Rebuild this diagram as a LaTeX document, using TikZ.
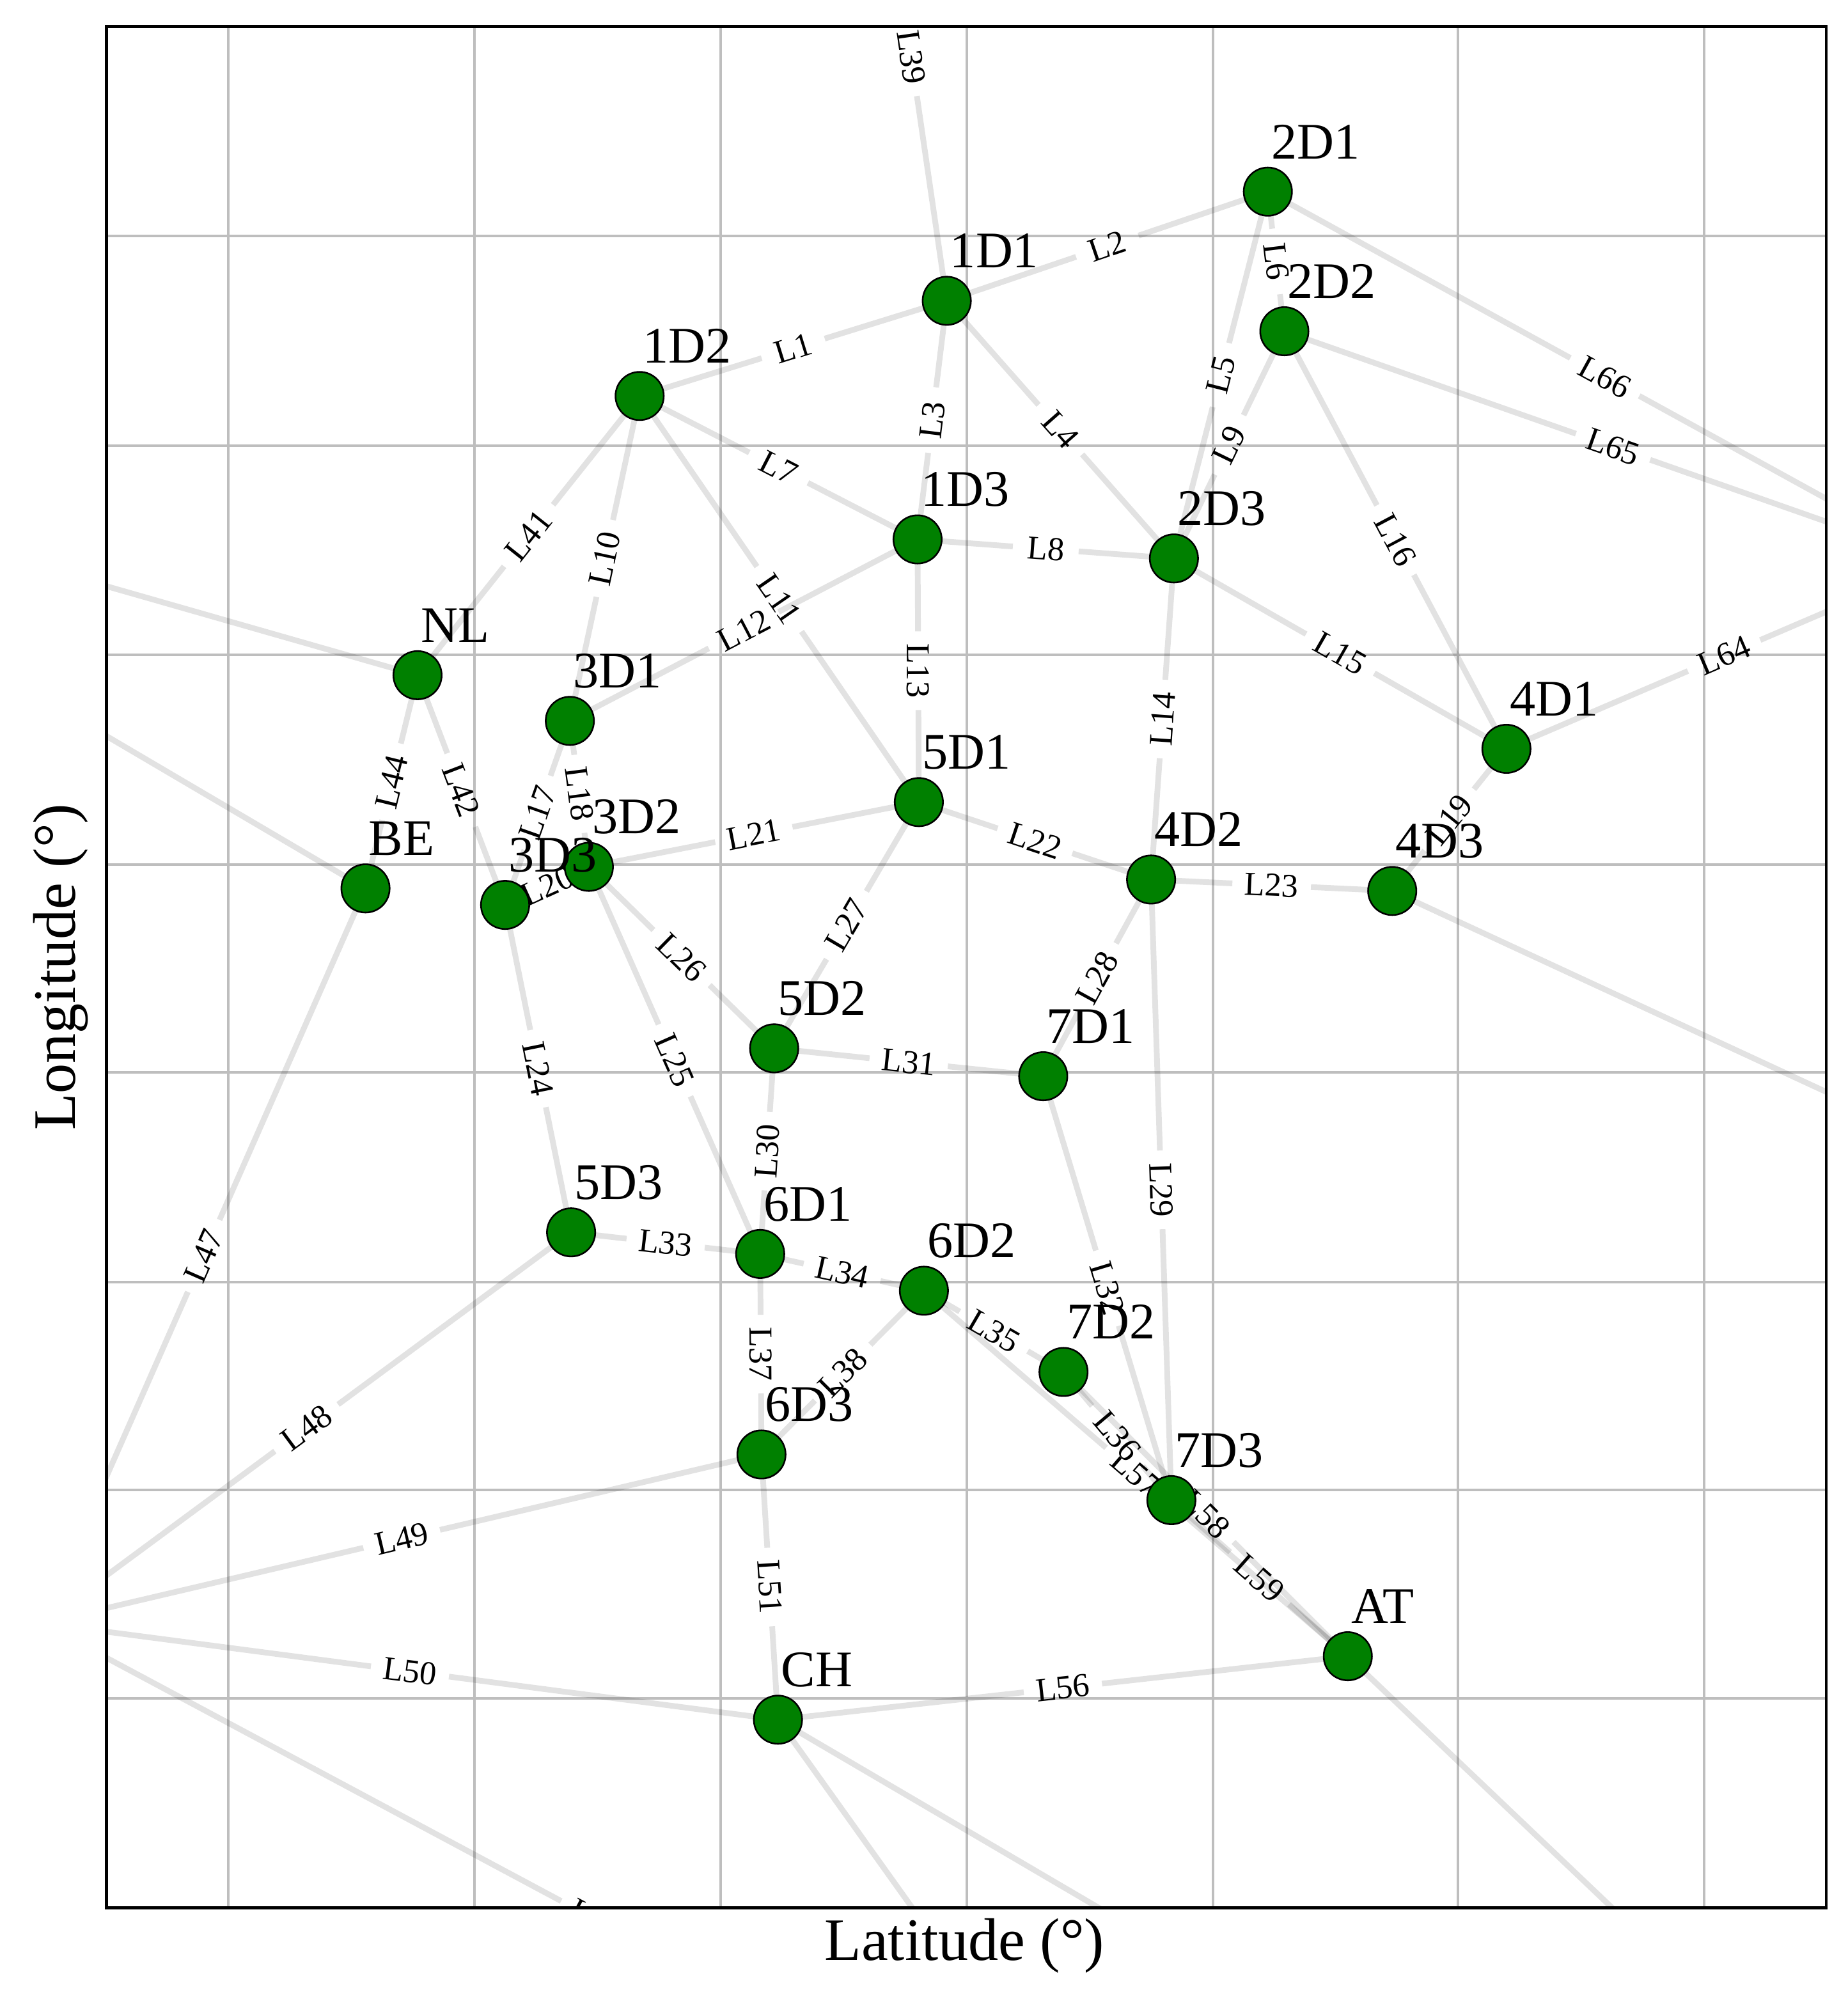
\documentclass[tikz,border=0pt]{standalone}
\usepackage{fontspec}
\setmainfont{Liberation Serif}
\usetikzlibrary{calc}
\pgfdeclarelayer{bg}
\pgfsetlayers{bg,main}
\definecolor{gridc}{RGB}{190,190,190}
\definecolor{busg}{RGB}{0,128,0}
\begin{document}
\begin{tikzpicture}[x=0.1mm,y=-0.1mm,
  bus/.style={circle,fill=busg,draw=black,line width=0.13mm,minimum size=3.8mm,inner sep=0pt},
  buslbl/.style={anchor=base west,inner sep=0pt,font=\fontsize{11.5}{12}\selectfont},
  edge/.style={draw=black,draw opacity=0.115,line width=0.45mm},
  elbl/.style={sloped,inner sep=0pt,font=\fontsize{7.5}{8}\selectfont},
  gridline/.style={draw=gridc,line width=0.2mm},
  frame/.style={draw=black,line width=0.25mm},
  axlbl/.style={font=\fontsize{13.5}{14}\selectfont,inner sep=0pt}]
\useasboundingbox (0,0) rectangle (1456,1568);
% buses
\foreach \nm/\x/\y in {1D1/746/237,2D1/999/151,2D2/1012/261,1D2/504/312,1D3/723/425,
  2D3/925/440,NL/329/532,3D1/449/568,4D1/1187/590,5D1/724/632,3D2/464/683,4D2/907/693,
  BE/288/700,3D3/398/713,4D3/1097/702,5D2/610/826,7D1/822/848,5D3/450/971,6D1/599/988,
  6D2/728/1017,7D2/838/1081,6D3/600/1146,7D3/923/1182,AT/1062/1305,CH/613/1355}
  {\node[bus] (n\nm) at (\x,\y) {};}
% off-plot ends
\coordinate (xN) at (690,-147);
\coordinate (xW) at (-307,350);
\coordinate (xFR) at (33,1279);
\coordinate (xS) at (906,1746);
\coordinate (xR) at (1530,443);
\coordinate (xE) at (1881,1065);
\coordinate (xSa) at (865,1708);
\coordinate (xSb) at (1215,1708);
\coordinate (xSE) at (1559,1778);
\begin{pgfonlayer}{bg}
\fill[white] (0,0) rectangle (1456,1568);
\begin{scope}
\clip (84,21) rectangle (1439,1503);
\foreach \gx in {180,374,568,762,956,1149,1343} {\draw[gridline] (\gx,21) -- (\gx,1503);}
\foreach \gy in {186,351,516,681,845,1010,1174,1338} {\draw[gridline] (84,\gy) -- (1439,\gy);}
\foreach \a/\b/\t/\g/\f in {n1D2/n1D1/L1/2.6mm/none, n1D1/n2D1/L2/2.6mm/none, n1D1/n1D3/L3/2.6mm/none,
  n1D1/n2D3/L4/2.6mm/none, n2D1/n2D3/L5/2.6mm/none, n2D1/n2D2/L6/2.6mm/none, n1D2/n1D3/L7/2.6mm/none,
  n1D3/n2D3/L8/2.6mm/none, n2D2/n2D3/L9/2.6mm/none, n1D2/n3D1/L10/3.1mm/none, n1D2/n5D1/L11/3.1mm/none,
  n1D3/n3D1/L12/3.1mm/none, n1D3/n5D1/L13/3.1mm/none, n2D3/n4D2/L14/3.1mm/none, n2D3/n4D1/L15/3.1mm/none,
  n2D2/n4D1/L16/3.1mm/none, n3D1/n3D3/L17/3.1mm/none, n3D1/n3D2/L18/3.1mm/none, n4D1/n4D3/L19/3.1mm/none,
  n3D3/n3D2/L20/3.1mm/none, n3D2/n5D1/L21/3.1mm/none, n5D1/n4D2/L22/3.1mm/none, n4D2/n4D3/L23/3.1mm/none,
  n3D3/n5D3/L24/3.1mm/none, n3D2/n6D1/L25/3.1mm/none, n3D2/n5D2/L26/3.1mm/none, n5D1/n5D2/L27/3.1mm/none,
  n4D2/n7D1/L28/3.1mm/none, n4D2/n7D3/L29/3.1mm/none, n5D2/n6D1/L30/3.1mm/none, n5D2/n7D1/L31/3.1mm/none,
  n7D1/n7D3/L32/3.1mm/none, n5D3/n6D1/L33/3.1mm/none, n6D1/n6D2/L34/3.1mm/none, n6D2/n7D2/L35/3.1mm/none,
  n6D2/nAT/L57/3.1mm/none, n7D2/n7D3/L36/3.1mm/white, n6D1/n6D3/L37/3.1mm/none, n6D2/n6D3/L38/3.1mm/none,
  n1D1/xN/L39/3.1mm/none, n1D2/nNL/L41/3.1mm/none, nNL/n3D3/L42/3.1mm/none, nNL/nBE/L44/3.1mm/none,
  nBE/xFR/L47/3.1mm/none, n5D3/xFR/L48/3.1mm/none, n6D3/xFR/L49/3.1mm/none, nCH/xFR/L50/3.1mm/none,
  n6D3/nCH/L51/3.1mm/none, xFR/xS/L52/3.1mm/none, nCH/nAT/L56/3.1mm/none, n7D2/nAT/L58/3.1mm/none,
  n7D3/nAT/L59/3.1mm/none, n4D1/xR/L64/3.1mm/none, n2D2/xR/L65/3.1mm/none, n2D1/xR/L66/3.1mm/none}
{
  \draw[edge] (\a.center) -- ($(\a.center)!0.5!(\b.center)!\g!(\a.center)$);
  \draw[edge] ($(\a.center)!0.5!(\b.center)!\g!(\b.center)$) -- (\b.center);
  \path (\a.center) -- node[elbl,fill=\f,inner xsep=0.3mm] (l\t) {\t} (\b.center);
}
\foreach \a/\b in {nNL/xW, nBE/xW, nCH/xSa, nCH/xSb, nAT/xSE, n4D3/xE}
  {\draw[edge] (\a.center) -- (\b.center);}
\end{scope}
\end{pgfonlayer}
% bus labels
\foreach \nm in {1D1,2D1,2D2,1D2,1D3,2D3,NL,3D1,4D1,5D1,3D2,4D2,BE,3D3,4D3,5D2,7D1,5D3,6D1,6D2,7D2,6D3,7D3,AT,CH}
  {\node[buslbl] (t\nm) at ([shift={(2,-26)}]n\nm.center) {\nm};}
% frame and axis titles
\draw[frame] (84,21) rectangle (1439,1503);
\node[axlbl] (xlab) at (760,1533) {Latitude (°)};
\node[axlbl,rotate=90] (ylab) at (48,762) {Longitude (°)};
\end{tikzpicture}
\end{document}
